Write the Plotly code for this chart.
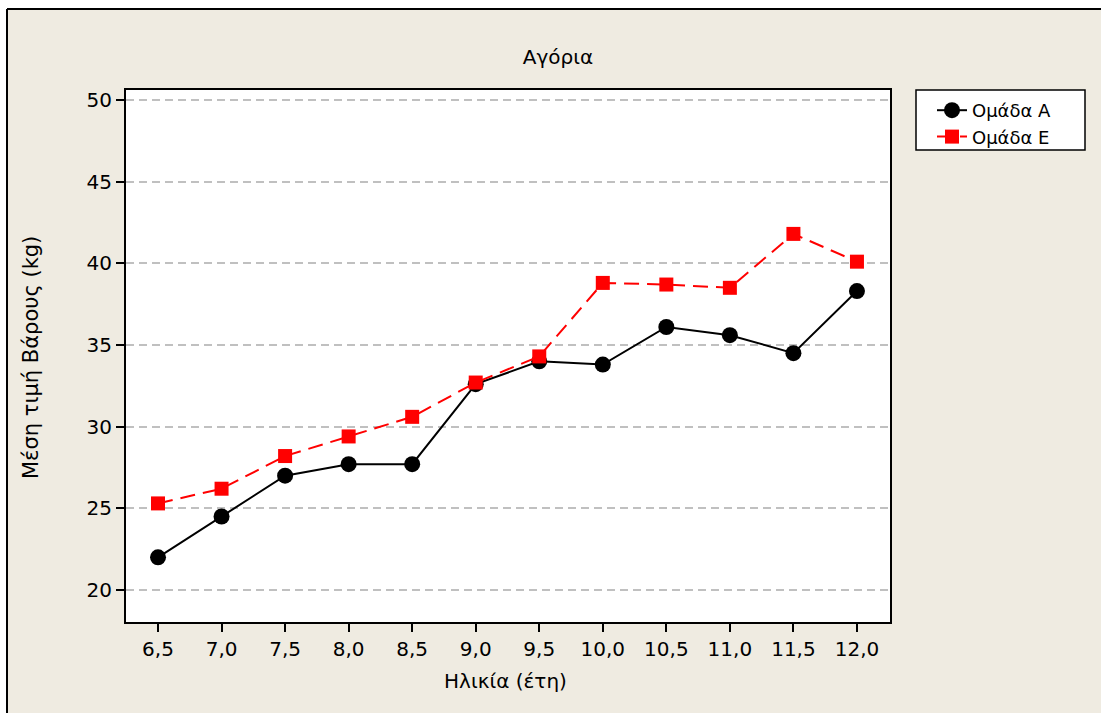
import plotly.graph_objects as go

ages = [6.5, 7.0, 7.5, 8.0, 8.5, 9.0, 9.5, 10.0, 10.5, 11.0, 11.5, 12.0]
age_labels = ["6,5", "7,0", "7,5", "8,0", "8,5", "9,0", "9,5", "10,0", "10,5", "11,0", "11,5", "12,0"]
group_a = [22.0, 24.5, 27.0, 27.7, 27.7, 32.6, 34.0, 33.8, 36.1, 35.6, 34.5, 38.3]
group_e = [25.3, 26.2, 28.2, 29.4, 30.6, 32.7, 34.3, 38.8, 38.7, 38.5, 41.8, 40.1]
y_ticks = [20, 25, 30, 35, 40, 45, 50]

W, H = 1101, 713
L, R, T, B = 126, 890, 90, 622
FONT = "DejaVu Sans"
NOLINE = dict(width=0, color="rgba(0,0,0,0)")

fig = go.Figure()
fig.add_trace(go.Scatter(
    x=ages, y=group_a, mode="lines+markers", name="Ομάδα Α",
    line=dict(color="black", width=2),
    marker=dict(symbol="circle", size=16, color="black"),
))
fig.add_trace(go.Scatter(
    x=ages, y=group_e, mode="lines+markers", name="Ομάδα Ε",
    line=dict(color="#ff0000", width=2, dash="15px,8px"),
    marker=dict(symbol="square", size=14, color="#ff0000"),
))

pw = R - L
ph = B - T
def px(x): return (x - L) / pw
def py(y): return (B - y) / ph

shapes = [
    dict(type="rect", xref="paper", yref="paper", layer="below",
         x0=px(7), x1=px(W), y0=py(H), y1=py(9),
         fillcolor="#EFEBE1", line=NOLINE),
    dict(type="line", xref="paper", yref="paper", layer="below",
         x0=px(7), x1=px(W), y0=py(9), y1=py(9),
         line=dict(color="black", width=2)),
    dict(type="line", xref="paper", yref="paper", layer="below",
         x0=px(7), x1=px(7), y0=py(9), y1=py(H),
         line=dict(color="black", width=2)),
    dict(type="rect", xref="paper", yref="paper", layer="below",
         x0=0, x1=1, y0=0, y1=1, fillcolor="white", line=NOLINE),
    # legend frame
    dict(type="rect", xref="paper", yref="paper", layer="below",
         x0=px(916), x1=px(1085), y0=py(150), y1=py(90),
         fillcolor="white", line=dict(color="black", width=1.5)),
]

fig.update_layout(
    width=W, height=H,
    margin=dict(l=L, r=W - R, t=T, b=H - B, pad=0),
    paper_bgcolor="white", plot_bgcolor="white",
    font=dict(family=FONT, size=20, color="black"),
    title=dict(text="Αγόρια", x=558 / W, xref="container", xanchor="center",
               y=1 - 57 / H, yref="container", yanchor="middle",
               font=dict(family=FONT, size=20, color="black")),
    shapes=shapes,
    showlegend=True,
    legend=dict(x=px(932), y=py(92), xanchor="left", yanchor="top",
                bgcolor="rgba(0,0,0,0)", borderwidth=0,
                font=dict(family=FONT, size=18, color="black"),
                tracegroupgap=0),
    xaxis=dict(range=[6.248, 12.26], tickmode="array", tickvals=ages, ticktext=age_labels,
               ticks="outside", ticklen=8, tickwidth=2, tickcolor="black",
               showline=True, linecolor="black", linewidth=2, mirror=True,
               showgrid=False, zeroline=False, fixedrange=True,
               tickfont=dict(family=FONT, size=20)),
    yaxis=dict(range=[18.04, 50.61], tickmode="array", tickvals=y_ticks,
               ticks="outside", ticklen=8, tickwidth=2, tickcolor="black",
               showline=True, linecolor="black", linewidth=2, mirror=True,
               showgrid=True, gridcolor="#C0C0C0", gridwidth=1.5, griddash="8px,5px",
               zeroline=False, fixedrange=True,
               tickfont=dict(family=FONT, size=20)),
    annotations=[
        dict(text="Ηλικία (έτη)", xref="paper", yref="paper", x=px(505), y=py(681),
             xanchor="center", yanchor="middle", showarrow=False,
             font=dict(family=FONT, size=20, color="black")),
        dict(text="Μέση τιμή Βάρους (kg)", xref="paper", yref="paper", x=px(31), y=py(358),
             xanchor="center", yanchor="middle", showarrow=False, textangle=-90,
             font=dict(family=FONT, size=21, color="black")),
    ],
)

fig.write_html(
    "out.html", config={"displayModeBar": False},
    post_script=("document.body.style.margin='0px';"
                 "document.body.style.overflow='hidden';"
                 "document.documentElement.style.overflow='hidden';"),
)
